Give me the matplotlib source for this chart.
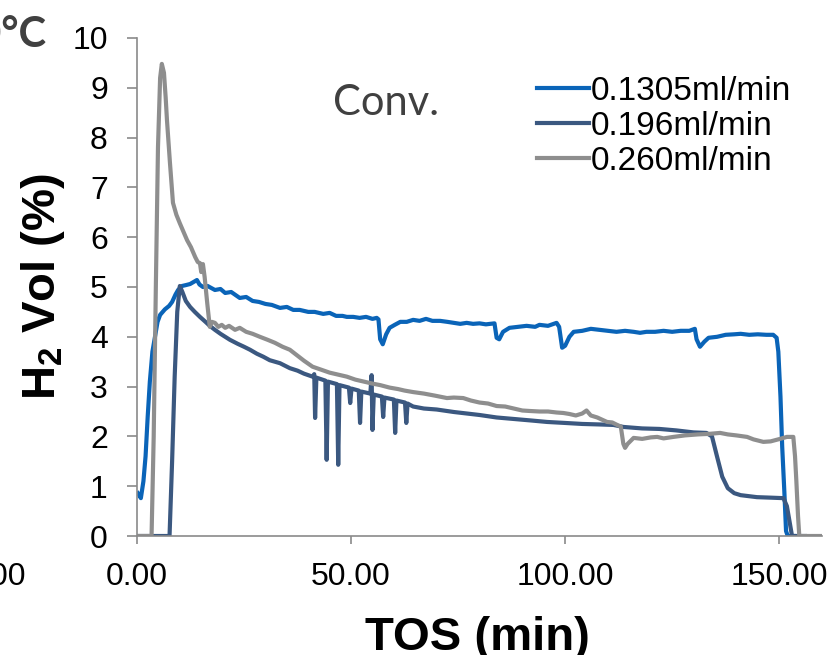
import matplotlib
matplotlib.use("Agg")
import matplotlib.pyplot as plt
from matplotlib.ticker import FormatStrFormatter, MultipleLocator

plt.rcParams['font.family'] = ['Liberation Sans', 'DejaVu Sans']
plt.rcParams['mathtext.fontset'] = 'custom'
plt.rcParams['mathtext.rm'] = 'Liberation Sans'
plt.rcParams['mathtext.bf'] = 'Liberation Sans:bold'

# series: 0.1305 ml/min
t_a = [0.2, 0.9, 1.5, 2.0, 2.5, 3.0, 3.6, 4.2, 4.8, 5.4, 6.5, 7.5, 8.2, 9.0, 9.6,
       10.5, 11.5, 12.4, 13.2, 14.0, 14.6, 15.4, 16.5, 18.2, 19.5, 20.6, 22.0, 24.0,
       25.5, 27.0, 28.5, 30.0, 31.5, 33.4, 35.0, 36.5, 38.0, 40.0, 41.5, 43.5, 45.0,
       46.5, 48.0, 49.0, 50.5, 52.0, 53.5, 55.0, 56.0, 56.4, 56.8, 57.4, 58.2, 59.0,
       60.2, 61.5, 63.0, 64.5, 66.0, 67.5, 69.0, 70.8, 72.5, 74.0, 75.5, 77.0, 78.5,
       80.0, 81.5, 83.5, 84.0, 84.6, 85.5, 87.0, 89.0, 91.0, 93.0, 94.0, 96.0, 98.0,
       98.6, 99.3, 100.0, 101.0, 102.0, 104.0, 106.0, 108.0, 110.0, 112.0, 114.0,
       116.0, 117.5, 119.0, 121.0, 123.0, 125.0, 127.0, 129.0, 130.3, 130.7, 131.5,
       132.5, 133.5, 135.5, 137.5, 139.5, 141.0, 143.0, 145.0, 147.0, 148.6, 149.4,
       149.8, 150.3, 150.7, 151.2, 151.6, 152.0, 153.5]
h2_a = [0.86, 0.76, 1.1, 1.6, 2.4, 3.1, 3.7, 4.0, 4.3, 4.44, 4.55, 4.62, 4.7, 4.85, 4.94,
        5.02, 5.04, 5.06, 5.1, 5.14, 5.05, 5.0, 5.02, 4.94, 4.96, 4.88, 4.9, 4.78,
        4.8, 4.72, 4.7, 4.66, 4.64, 4.58, 4.6, 4.54, 4.54, 4.5, 4.5, 4.46, 4.48,
        4.42, 4.42, 4.4, 4.4, 4.38, 4.4, 4.36, 4.38, 4.35, 3.95, 3.85, 4.05, 4.18,
        4.24, 4.3, 4.3, 4.34, 4.32, 4.36, 4.32, 4.32, 4.3, 4.28, 4.26, 4.28, 4.26,
        4.27, 4.25, 4.27, 3.98, 3.95, 4.1, 4.18, 4.2, 4.22, 4.2, 4.24, 4.22, 4.28,
        4.2, 3.78, 3.82, 4.0, 4.1, 4.12, 4.16, 4.14, 4.12, 4.1, 4.12,
        4.1, 4.08, 4.1, 4.1, 4.12, 4.1, 4.12, 4.12, 4.16, 3.95, 3.8,
        3.9, 3.98, 4.0, 4.04, 4.05, 4.06, 4.04, 4.05, 4.04, 4.04, 3.98,
        3.7, 2.8, 1.8, 0.9, 0.1, 0.0, 0.0]

# series: 0.196 ml/min
t_b = [0.0, 7.6, 8.2, 8.8, 9.4, 10.0, 10.6, 11.4, 12.4, 13.5, 14.7, 16.0, 17.0, 18.2,
       19.5, 21.7, 23.5, 25.0, 26.4, 28.0, 29.5, 31.0, 33.4, 35.7, 37.5, 39.0, 41.0,
       41.4, 41.6, 41.9, 44.0, 44.3, 44.6, 46.7, 47.0, 47.3, 49.5, 49.8, 50.1, 51.8,
       52.1, 52.4, 54.5, 54.8, 55.0, 55.3, 57.2, 57.5, 57.8, 60.0, 60.3, 60.6, 62.6,
       62.9, 63.2, 64.5, 67.0, 70.0, 74.0, 77.0, 80.0, 84.0, 88.0, 92.0, 95.8, 100.0,
       104.0, 108.0, 111.3, 113.6, 118.0, 122.0, 126.0, 130.0, 133.0, 134.3, 135.5,
       136.7, 138.0, 139.5, 141.0, 144.8, 148.0, 151.0, 151.8, 152.5, 153.0, 156.0]
h2_b = [0.0, 0.0, 1.5, 3.2, 4.5, 5.02, 4.9, 4.72, 4.6, 4.5, 4.4, 4.3, 4.22, 4.14,
        4.06, 3.94, 3.86, 3.8, 3.74, 3.66, 3.6, 3.53, 3.47, 3.37, 3.32, 3.26, 3.2,
        3.25, 2.37, 3.18, 3.12, 1.53, 3.1, 3.05, 1.43, 3.03, 2.98, 2.67, 2.96, 2.92,
        2.27, 2.9, 2.86, 3.23, 2.13, 2.84, 2.8, 2.39, 2.78, 2.74, 2.07, 2.72, 2.68,
        2.27, 2.66, 2.6, 2.56, 2.54, 2.49, 2.46, 2.43, 2.38, 2.35, 2.32, 2.29, 2.27,
        2.25, 2.24, 2.23, 2.19, 2.16, 2.15, 2.12, 2.08, 2.07, 2.0, 1.59,
        1.19, 0.96, 0.86, 0.82, 0.78, 0.77, 0.76, 0.6, 0.25, 0.0, 0.0]

# series: 0.260 ml/min
t_c = [0.0, 3.4, 3.9, 4.4, 4.9, 5.4, 5.8, 6.3, 6.7, 7.0, 7.7, 8.4, 9.2, 10.0, 11.7,
       12.6, 13.6, 14.2, 14.7, 15.0, 15.4, 15.8, 16.4, 17.0, 17.5, 18.2, 19.0, 19.8,
       20.6, 21.5, 22.9, 24.0, 25.5, 27.0, 28.7, 30.5, 32.2, 34.0, 35.7, 37.5, 39.0,
       41.0, 43.0, 45.0, 47.0, 49.0, 51.0, 53.0, 55.0, 56.8, 59.0, 61.0, 62.5, 64.5,
       67.0, 69.5, 72.4, 74.0, 76.2, 78.0, 80.0, 82.0, 84.0, 86.0, 88.0, 90.0, 91.8,
       94.0, 96.0, 98.0, 99.6, 101.0, 102.5, 104.0, 105.0, 106.0, 107.5, 109.8, 111.0,
       112.4, 113.0, 113.6, 114.0, 114.6, 116.0, 118.0, 120.0, 121.5, 123.0, 125.3,
       128.0, 131.0, 133.5, 136.2, 138.0, 140.0, 142.5, 144.0, 146.3, 148.0, 150.2,
       151.8, 153.3, 153.7, 154.0, 154.4, 154.7, 159.6]
h2_c = [0.0, 0.0, 2.0, 5.0, 7.8, 9.2, 9.48, 9.3, 8.8, 8.35, 7.49, 6.69, 6.45, 6.28, 5.94,
        5.8, 5.6, 5.5, 5.48, 5.3, 5.46, 5.2, 4.68, 4.2, 4.3, 4.28, 4.2, 4.24,
        4.18, 4.22, 4.14, 4.18, 4.1, 4.06, 4.0, 3.94, 3.88, 3.8, 3.74, 3.62, 3.52,
        3.4, 3.34, 3.28, 3.24, 3.2, 3.14, 3.1, 3.06, 3.03, 2.98, 2.95, 2.92, 2.89,
        2.86, 2.82, 2.77, 2.78, 2.77, 2.72, 2.68, 2.66, 2.61, 2.6, 2.56, 2.52, 2.51,
        2.5, 2.5, 2.48, 2.47, 2.45, 2.42, 2.46, 2.52, 2.42, 2.38, 2.29, 2.28,
        2.22, 2.2, 1.85, 1.77, 1.85, 1.97, 1.95, 1.98, 1.99, 1.96, 1.99,
        2.02, 2.04, 2.05, 2.07, 2.04, 2.02, 1.99, 1.94, 1.89, 1.9, 1.95,
        1.99, 1.99, 1.6, 1.12, 0.4, 0.0, 0.0]

labels = ['0.1305ml/min', '0.196ml/min', '0.260ml/min']
colors = ['#0a64b8', '#3b5880', '#8e8e8e']

fig = plt.figure(figsize=(8.36, 6.55), dpi=100)
ax = fig.add_axes([137 / 836, 1 - 536 / 655, 685 / 836, 498 / 655])

for t, h, lab, c in zip([t_a, t_b, t_c], [h2_a, h2_b, h2_c], labels, colors):
    ax.plot(t, h, color=c, lw=3.0, label=lab, solid_joinstyle='round')

ax.set_xlim(0, 160)
ax.set_ylim(0, 10)
ax.xaxis.set_major_locator(MultipleLocator(50))
ax.xaxis.set_major_formatter(FormatStrFormatter('%.2f'))
ax.yaxis.set_major_locator(MultipleLocator(1))

for s in ['top', 'right']:
    ax.spines[s].set_visible(False)
for s in ['left', 'bottom']:
    ax.spines[s].set_color('#8a8a8a')
    ax.spines[s].set_linewidth(1.2)
ax.tick_params(axis='both', colors='#8a8a8a', labelcolor='black', labelsize=23,
               width=1.2, direction='out')
ax.tick_params(axis='y', length=7, pad=14)
ax.tick_params(axis='x', length=6, pad=13)

leg = ax.legend(loc='upper left', bbox_to_anchor=(537 / 836, 1 - 76 / 655),
                bbox_transform=fig.transFigure, frameon=False, fontsize=24,
                handlelength=1.55, handletextpad=0.05, labelspacing=0.12,
                borderpad=0, borderaxespad=0)

fig.text(477 / 836, 1 - 650 / 655, 'TOS (min)', fontsize=34, fontweight='bold',
         ha='center', va='baseline')
fig.text(55 / 836, 1 - 286 / 655, r'H$_\mathbf{2}$ Vol (%)', fontsize=34,
         fontweight='bold', rotation=90, ha='center', va='baseline',
         rotation_mode='anchor')
fig.text(333 / 836, 1 - 115 / 655, 'Conv.', fontsize=30, family='Lato',
         color='#404040', ha='left', va='baseline')
# cut-off pieces from neighbouring panels
fig.text(46 / 836, 1 - 47 / 655, '600°C', fontsize=30,
         family=['Liberation Sans Narrow', 'Lato'],
         fontweight='bold', color='#404040', ha='right', va='baseline')
fig.text(26 / 836, 1 - 585 / 655, '150.00', fontsize=23, ha='right', va='baseline')

fig.savefig('out.png', dpi=100)
